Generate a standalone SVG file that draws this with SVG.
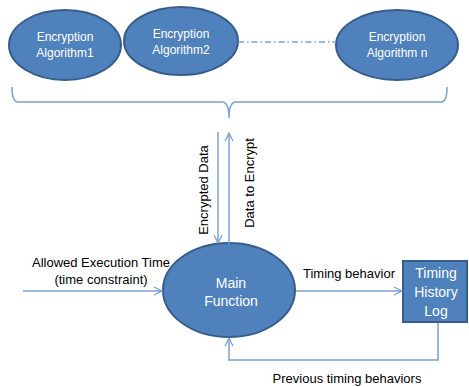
<svg xmlns="http://www.w3.org/2000/svg" width="469" height="387" viewBox="0 0 469 387">
<style>
.node{fill:#4f81bd;stroke:#385d8a;stroke-width:2}
.wt{fill:#ffffff;font-family:"Liberation Sans",Arial,sans-serif;text-anchor:middle}
.bt{fill:#000000;font-family:"Liberation Sans",Arial,sans-serif;font-size:13px;text-anchor:middle}
.conn{fill:none;stroke:#7ba0d2;stroke-width:1.5}
</style>
<defs>
<marker id="arr" viewBox="0 0 10 10" refX="9" refY="5" markerWidth="10" markerHeight="10" markerUnits="userSpaceOnUse" orient="auto">
<path d="M1,1 L9,5 L1,9" fill="none" stroke="#7ba0d2" stroke-width="1.3"/>
</marker>
</defs>
<rect width="469" height="387" fill="#ffffff"/>
<g id="alg1">
<ellipse class="node" cx="65" cy="45" rx="56" ry="35"/>
<text class="wt" font-size="12" x="65" y="41">Encryption</text>
<text class="wt" font-size="12" x="65" y="57">Algorithm1</text>
</g>
<g id="alg2">
<ellipse class="node" cx="181" cy="41" rx="57" ry="34"/>
<text class="wt" font-size="12" x="181" y="38">Encryption</text>
<text class="wt" font-size="12" x="181" y="54">Algorithm2</text>
</g>
<g id="algn">
<ellipse class="node" cx="397" cy="45" rx="61" ry="35"/>
<text class="wt" font-size="12" x="397" y="41">Encryption</text>
<text class="wt" font-size="12" x="397" y="57">Algorithm n</text>
</g>
<g id="main">
<ellipse class="node" cx="229" cy="290" rx="66" ry="47"/>
<text class="wt" font-size="14" x="231" y="288">Main</text>
<text class="wt" font-size="14" x="231" y="306">Function</text>
</g>
<g id="log">
<rect class="node" x="403" y="261" width="64" height="61"/>
<text class="wt" font-size="14" x="436" y="278">Timing</text>
<text class="wt" font-size="14" x="436" y="297">History</text>
<text class="wt" font-size="14" x="436" y="316">Log</text>
</g>
<g id="connectors">
<path class="conn" d="M238,42 L336,42" stroke-dasharray="6,3,1.5,3" stroke-width="1"/>
<path class="conn" d="M12,87 Q12,102 18,102 L222,102 Q229,102 229,118 Q229,102 236,102 L441,102 Q447,102 447,87" stroke-width="1.2"/>
<path class="conn" d="M218,132 L218,243" marker-end="url(#arr)"/>
<path class="conn" d="M229,244 L229,133" marker-end="url(#arr)"/>
<path class="conn" d="M23,291 L162,291" marker-end="url(#arr)"/>
<path class="conn" d="M296,291 L402,291" marker-end="url(#arr)"/>
<path class="conn" d="M438,323 L438,360 L229,360 L229,338" marker-end="url(#arr)"/>
</g>
<g id="labels">
<text class="bt" transform="translate(208,190) rotate(-90)">Encrypted Data</text>
<text class="bt" transform="translate(254,183) rotate(-90)">Data to Encrypt</text>
<text class="bt" x="101" y="267">Allowed Execution Time</text>
<text class="bt" x="101" y="284">(time constraint)</text>
<text class="bt" x="349" y="278">Timing behavior</text>
<text class="bt" x="347" y="383">Previous timing behaviors</text>
</g>
</svg>
